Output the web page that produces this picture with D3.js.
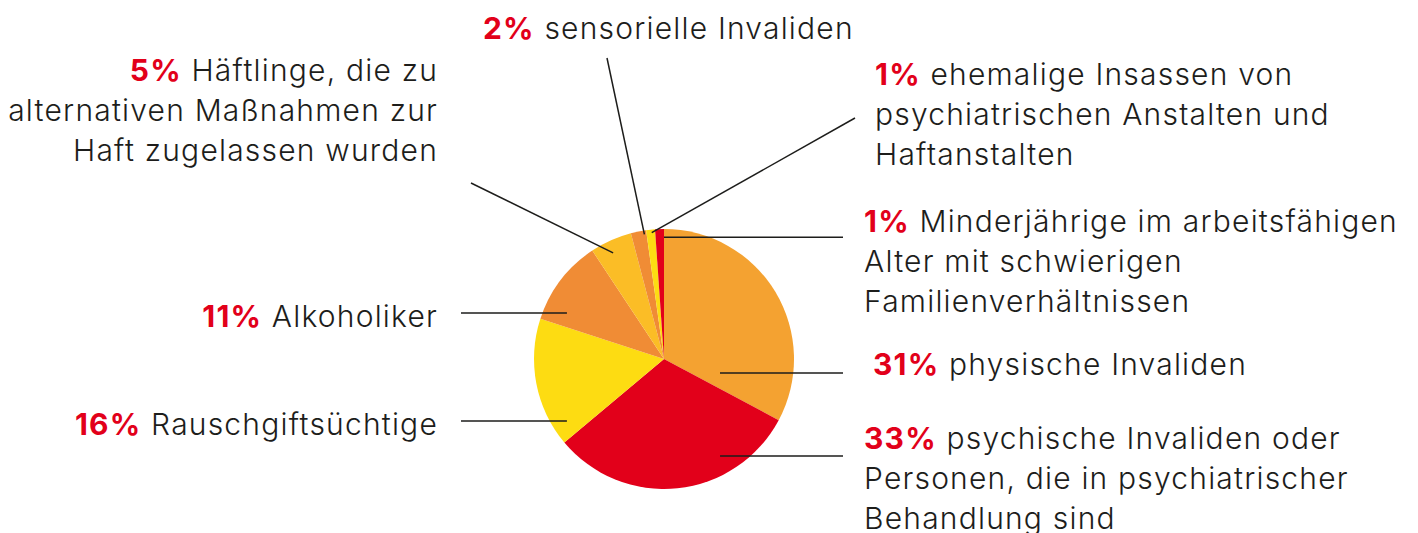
<!DOCTYPE html>
<html><head><meta charset="utf-8">
<script src="https://cdn.jsdelivr.net/npm/d3@7"></script>
<style>
html,body{margin:0;padding:0;background:#fff;}
svg{display:block;}
text{font-family:Inter,"Open Sans",sans-serif;font-weight:300;fill:#1d1d1b;letter-spacing:1.2px;}
.pct{font-weight:700;fill:#e2001a;}
</style></head>
<body>
<svg id="chart" width="1418" height="533"></svg>
<script>
// ---- data ----
const categories = [
  "physische Invaliden",
  "psychische Invaliden oder Personen, die in psychiatrischer Behandlung sind",
  "Rauschgiftsüchtige",
  "Alkoholiker",
  "Häftlinge, die zu alternativen Maßnahmen zur Haft zugelassen wurden",
  "sensorielle Invaliden",
  "ehemalige Insassen von psychiatrischen Anstalten und Haftanstalten",
  "Minderjährige im arbeitsfähigen Alter mit schwierigen Familienverhältnissen"
];
// slice sizes as drawn in the picture (percent of circle)
const values = [32.8, 31.1, 16.1, 10.7, 5.2, 1.9, 1.1, 1.1];
const percentLabels = ["31%", "33%", "16%", "11%", "5%", "2%", "1%", "1%"];
const labelLines = [
  ["physische Invaliden"],
  ["psychische Invaliden oder", "Personen, die in psychiatrischer", "Behandlung sind"],
  ["Rauschgiftsüchtige"],
  ["Alkoholiker"],
  ["Häftlinge, die zu", "alternativen Maßnahmen zur", "Haft zugelassen wurden"],
  ["sensorielle Invaliden"],
  ["ehemalige Insassen von", "psychiatrischen Anstalten und", "Haftanstalten"],
  ["Minderjährige im arbeitsfähigen", "Alter mit schwierigen", "Familienverhältnissen"]
];
const sliceColors = ["#f4a231", "#e2001a", "#fddc12", "#f08c35", "#fbbd26", "#f08c35", "#fddc12", "#e2001a"];

// ---- layout (not data) ----
const cx = 664, cy = 359, R = 130;
const fontSize = 30, lineH = 40;
const layout = [
  {f:0.881, rf:0.444, ox:843, oy:null, lx:873, ly:375, anchor:"start"},
  {f:0.285, rf:0.862, ox:843, oy:null, lx:864, ly:449, anchor:"start"},
  {f:0.128, rf:0.886, ox:461, oy:null, lx:438, ly:435, anchor:"end"},
  {f:0.19,  rf:0.826, ox:461, oy:null, lx:438, ly:327, anchor:"end"},
  {f:0.42,  rf:0.905, ox:471, oy:183,  lx:438, ly:81,  anchor:"end"},
  {f:0.85,  rf:0.97,  ox:607, oy:58,   lx:483, ly:39,  anchor:"start"},
  {f:0.6,   rf:0.976, ox:855, oy:118,  lx:875, ly:85,  anchor:"start"},
  {f:1.0,   rf:0.936, ox:843, oy:null, lx:864, ly:232, anchor:"start"}
];

const svg = d3.select("#chart");
const g = svg.append("g").attr("transform", `translate(${cx},${cy})`);

const pie = d3.pie().sort(null).value(d => d)(values);
const arc = d3.arc().innerRadius(0).outerRadius(R);

g.selectAll("path.slice").data(pie).join("path")
  .attr("class","slice")
  .attr("d", arc)
  .attr("fill", (d,i) => sliceColors[i]);

// leader lines
pie.forEach((d,i) => {
  const L = layout[i];
  const a = d.startAngle + (d.endAngle - d.startAngle) * L.f;
  const rr = R * L.rf;
  const x1 = cx + Math.sin(a) * rr;
  const y1 = cy - Math.cos(a) * rr;
  const y2 = L.oy === null ? y1 : L.oy;
  svg.append("line")
    .attr("x1", x1).attr("y1", y1)
    .attr("x2", L.ox).attr("y2", y2)
    .attr("stroke", "#1d1d1b").attr("stroke-width", 1.5);
});

// labels
labelLines.forEach((lines, i) => {
  const L = layout[i];
  const t = svg.append("text")
    .attr("text-anchor", L.anchor)
    .attr("font-size", fontSize);
  lines.forEach((ln, j) => {
    if (j === 0) {
      const t0 = t.append("tspan").attr("x", L.lx).attr("y", L.ly);
      t0.append("tspan").attr("class","pct").text(percentLabels[i]);
      t0.append("tspan").text(" " + ln);
    } else {
      t.append("tspan").attr("x", L.lx).attr("y", L.ly + j * lineH).text(ln);
    }
  });
});
</script>
</body></html>
